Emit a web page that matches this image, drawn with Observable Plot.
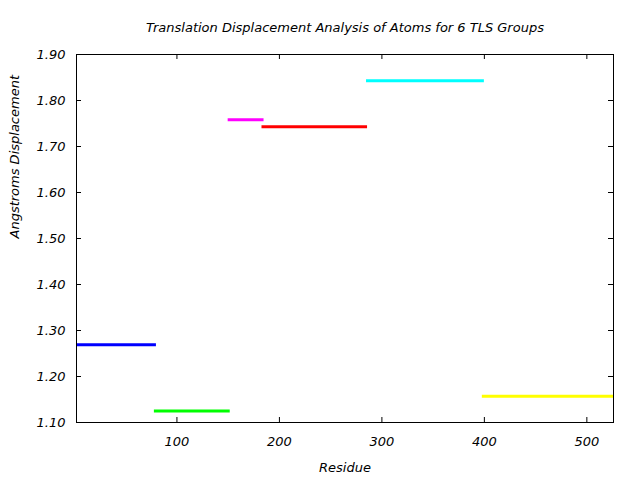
<!DOCTYPE html>
<html>
<head>
<meta charset="utf-8">
<script src="https://cdn.jsdelivr.net/npm/d3@7"></script>
<script src="https://cdn.jsdelivr.net/npm/@observablehq/plot@0.6"></script>
<style>
  html, body { margin: 0; padding: 0; background: #fff; }
</style>
</head>
<body>
<div id="chart"></div>
<script>
const groupNames = ["TLS 1", "TLS 2", "TLS 3", "TLS 4", "TLS 5", "TLS 6"];
const startResidue = [2, 78, 150, 183, 285, 398];
const endResidue = [80, 152, 185, 286, 400, 526];
const displacement = [1.269, 1.125, 1.758, 1.743, 1.843, 1.157];
const groupColors = ["#0000ff", "#00ff00", "#ff00ff", "#ff0000", "#00ffff", "#ffff00"];
const xTicks = [100, 200, 300, 400, 500];
const yTicks = [1.10, 1.20, 1.30, 1.40, 1.50, 1.60, 1.70, 1.80, 1.90];
const titleText = "Translation Displacement Analysis of Atoms for 6 TLS Groups";
const xLabel = "Residue";
const yLabel = "Angstroms Displacement";

const data = groupNames.map((g, i) => ({
  group: g, x1: startResidue[i], x2: endResidue[i], y: displacement[i], color: groupColors[i]
}));

const W = 640, H = 480;
const mL = 76, mR = 27, mT = 54, mB = 58;
const plotW = W - mL - mR, plotH = H - mT - mB;
const font = "'DejaVu Sans', sans-serif";
const fs = 13;

const chart = Plot.plot({
  width: W, height: H,
  marginLeft: mL, marginRight: mR, marginTop: mT, marginBottom: mB,
  style: { fontFamily: font, fontStyle: "italic", fontSize: fs + "px", background: "#fff" },
  x: { domain: [2, 526], axis: null },
  y: { domain: [1.10, 1.90], axis: null },
  color: { type: "identity" },
  marks: [
    Plot.ruleY(data, { x1: "x1", x2: "x2", y: "y", stroke: "color", strokeWidth: 3 }),
    // ticks (inward, mirrored)
    Plot.tickX(xTicks, { x: d => d, insetTop: plotH - 5, stroke: "black" }),
    Plot.tickX(xTicks, { x: d => d, insetBottom: plotH - 5, stroke: "black" }),
    Plot.tickY(yTicks, { y: d => d, insetRight: plotW - 5, stroke: "black" }),
    Plot.tickY(yTicks, { y: d => d, insetLeft: plotW - 5, stroke: "black" }),
    Plot.frame({ stroke: "black" }),
    // tick labels
    Plot.text(xTicks, { x: d => d, frameAnchor: "bottom", lineAnchor: "middle", dy: 19, text: d => String(d), fontSize: fs, fill: "black" }),
    Plot.text(yTicks, { y: d => d, frameAnchor: "left", lineAnchor: "middle", dx: -11, textAnchor: "end", text: d => d.toFixed(2), fontSize: fs, fill: "black" }),
    // titles
    Plot.text([titleText], { frameAnchor: "top", lineAnchor: "middle", dy: -27, text: d => d, fontSize: fs, fill: "black" }),
    Plot.text([xLabel], { frameAnchor: "bottom", lineAnchor: "middle", dy: 45, text: d => d, fontSize: fs, fill: "black" }),
    Plot.text([yLabel], { frameAnchor: "left", lineAnchor: "middle", dx: -62, rotate: -90, text: d => d, fontSize: fs, fill: "black" })
  ]
});
document.getElementById("chart").appendChild(chart);
</script>
</body>
</html>
